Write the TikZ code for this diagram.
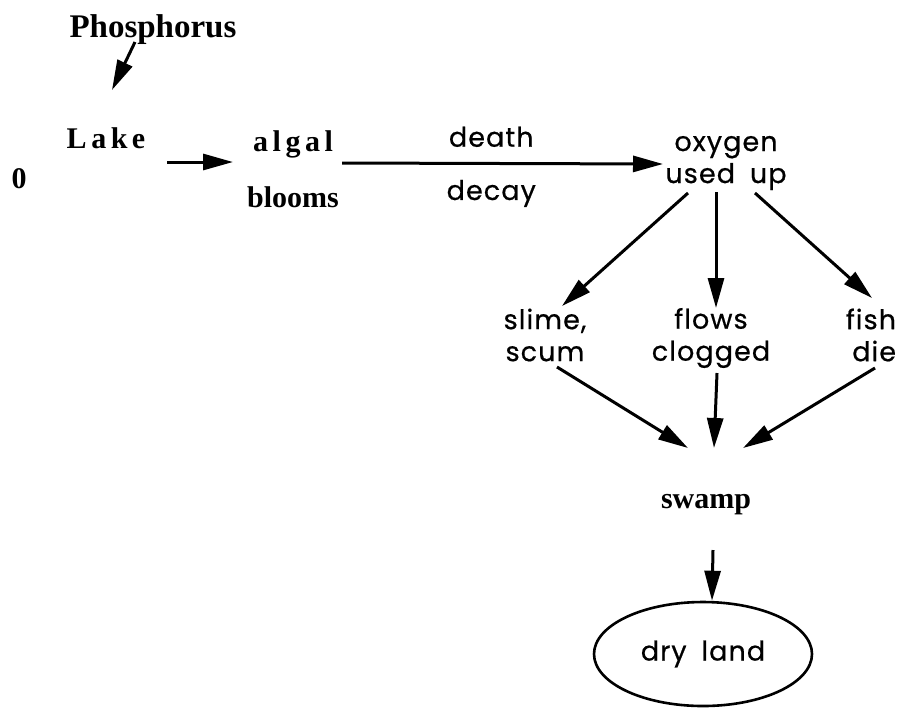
\documentclass[tikz,border=0pt]{standalone}
\usepackage{fontspec}
\setmainfont{Liberation Serif}
\newfontfamily\spacedserif{Liberation Serif}[LetterSpace=15]
\newfontfamily\geofont{Poppins}[LetterSpace=4, WordSpace=1.8, FakeBold=0.6]
\usetikzlibrary{arrows.meta, shapes.geometric}
\tikzset{
    euterm/.style={font=\bfseries\fontsize{15}{28}\selectfont, inner sep=0pt, align=center},
    euspaced/.style={font=\spacedserif\bfseries\fontsize{15}{28}\selectfont, inner sep=0pt},
    eueffect/.style={font=\geofont\fontsize{13.5}{16}\selectfont, inner sep=0pt, align=center},
    euarrow/.style={-{Triangle[length=15pt, width=8pt]}, line width=1.5pt},
    euend/.style={ellipse, draw, line width=1.3pt, minimum width=109pt, minimum height=52pt, inner sep=0pt}
}
\begin{document}
\begin{tikzpicture}[x=0.5pt, y=-0.5pt]
  \useasboundingbox (0,0) rectangle (904,708);
  \node[euterm, font=\bfseries\fontsize{16.5}{20}\selectfont, anchor=base] (phos) at (153,37) {Phosphorus};
  \node[euspaced, anchor=base] (lake) at (106,148) {Lake};
  \node[euterm, anchor=base] (zero) at (19,188) {0};
  \node[euterm] (bloom) at (293,169) {{\spacedserif algal}\\blooms};
  \node[eueffect] (oxy) at (726,163) {oxygen\\used up};
  \node[eueffect] (slime) at (545,335) {slime,\\scum};
  \node[eueffect] (flows) at (711,338) {flows\\clogged};
  \node[eueffect, align=right] (fish) at (871,335) {fish\\die};
  \node[euterm, anchor=base] (swamp) at (706,508) {swamp};
  \node[euend, font=\geofont\fontsize{13.5}{16}\selectfont] (dry) at (703,654) {dry land};

  \draw[euarrow] ([shift={(-18,5)}]phos.base) -- ([shift={(6,-58)}]lake.base);
  \draw[euarrow] ([shift={(61,14)}]lake.base) -- ([shift={(-60,-7)}]bloom.center);
  \draw[euarrow] ([shift={(49,-6)}]bloom.center) -- ([shift={(-63,1)}]oxy.center)
      node[pos=0.465, above=7.5pt, eueffect] {death}
      node[pos=0.465, below=7.5pt, eueffect] {decay};
  \foreach \n/\ax/\ay/\bx/\by in {slime/-38/30/17/-29, flows/-10/29/5/-30, fish/29/30/1/-37}
      \draw[euarrow] ([shift={(\ax,\ay)}]oxy.center) -- ([shift={(\bx,\by)}]\n.center);
  \foreach \n/\ax/\ay/\bx in {slime/12/32/-18, flows/6/35/8, fish/4/33/37}
      \draw[euarrow] ([shift={(\ax,\ay)}]\n.center) -- ([shift={(\bx,-60)}]swamp.base);
  \draw[euarrow] ([shift={(7,42)}]swamp.base) -- ([shift={(9,0)}]dry.north);
\end{tikzpicture}
\end{document}
